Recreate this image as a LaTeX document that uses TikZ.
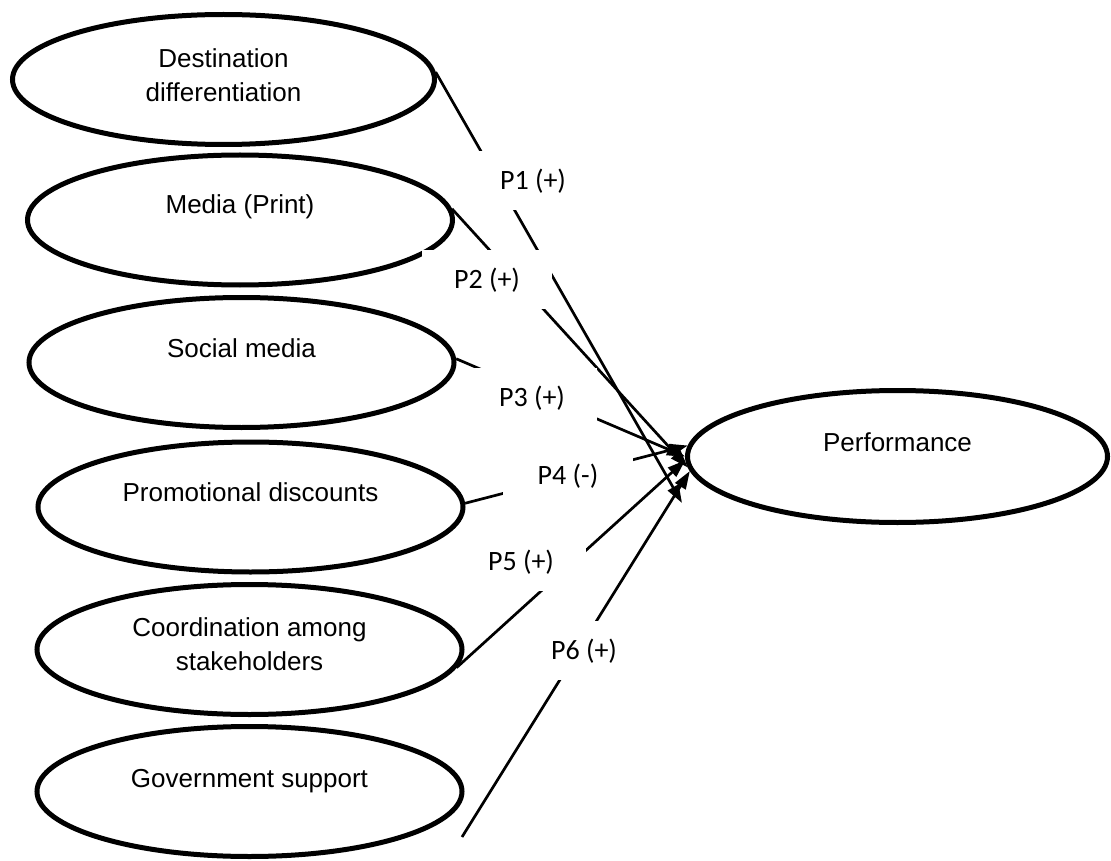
\documentclass[tikz,border=0pt]{standalone}
\usepackage{fontspec}
\setmainfont{Liberation Sans}
\newfontfamily\labelfont{Carlito}
\usetikzlibrary{shapes.geometric,arrows.meta}

\begin{document}
\begin{tikzpicture}[x=1pt,y=-1pt,
  construct/.style={ellipse,draw,line width=5pt,minimum width=425pt,minimum height=130pt,inner sep=0pt},
  constructtext/.style={font=\fontsize{26}{34}\selectfont,align=center,inner sep=0pt},
  link/.style={line width=2.7pt,-{Triangle[length=18pt,width=12pt]}},
  plabel/.style={fill=white,inner sep=0pt,minimum width=130pt,minimum height=59pt,
    font=\labelfont\fontsize{28}{34}\selectfont,text height=18pt,text depth=0pt}
]
\useasboundingbox (0,0) rectangle (1111,861);

% constructs on the left
\node[construct,minimum width=422pt] (dest) at (223.5,79.5) {};
\node[construct] (media)  at (240,220) {};
\node[construct] (social) at (241.5,362.5) {};
\node[construct] (promo)  at (250.5,507) {};
\node[construct] (coord)  at (249.5,649.5) {};
\node[construct] (gov)    at (249.5,791.5) {};
% outcome
\node[construct,minimum width=420pt,minimum height=132pt] (perf) at (897.5,456.5) {};

% construct names
\node[constructtext] (destT) at (223.5,75) {Destination\\differentiation};
\node[constructtext,anchor=base] (mediaT)  at (240,214) {Media (Print)};
\node[constructtext,anchor=base] (socialT) at (241.5,357) {Social media};
\node[constructtext,anchor=base] (promoT)  at (250.5,501) {Promotional discounts};
\node[constructtext] (coordT) at (249.5,644) {Coordination among\\stakeholders};
\node[constructtext,anchor=base] (govT)    at (249.5,787) {Government support};
\node[constructtext,anchor=base] (perfT)   at (897.5,451) {Performance};

% free ends of the paths
\coordinate (tipA) at (682,503);
\coordinate (govOut) at (462,837);

% hypothesised paths
\draw[link] (dest.2)    -- (tipA);
\draw[link] (media.3)   -- (perf.183);
\draw[link] (social.1)  -- (perf.180);
\draw[link] (promo.1)   -- (perf.177);
\draw[link] (coord.-5)  -- (perf.181);
\draw[link] (govOut)    -- (perf.184);

% proposition labels on white boxes
\node[plabel] (p1) at (533,181)   {P1 (+)};
\node[plabel] (p2) at (487,279.5) {P2 (+)};
\node[plabel] (p3) at (532,397.5) {P3 (+)};
\node[plabel] (p4) at (568,475)   {P4 (-)};
\node[plabel] (p5) at (521,561)   {P5 (+)};
\node[plabel] (p6) at (584,650)   {P6 (+)};
\end{tikzpicture}
\end{document}
